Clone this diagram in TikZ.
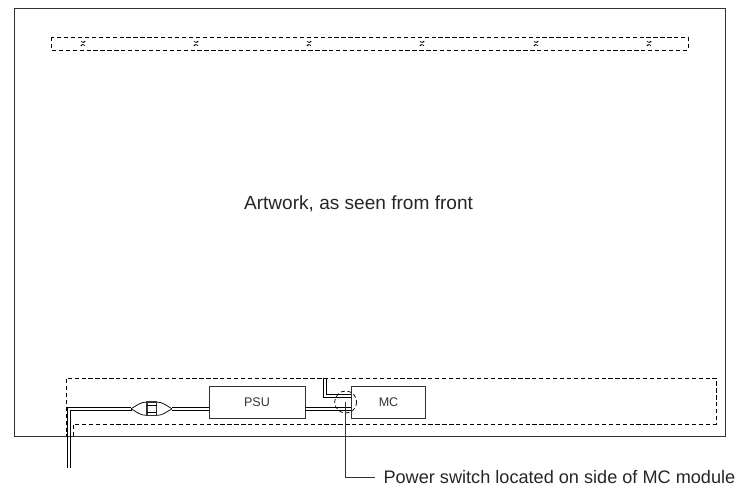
\documentclass[tikz,border=0pt]{standalone}
\usepackage{fontspec}
\setmainfont{Liberation Sans}
\usepackage{tikz}
\usetikzlibrary{calc}

\definecolor{inkline}{gray}{0.2}
\tikzset{
  module/.style={draw=inkline,line width=0.6pt,minimum width=72pt,minimum height=24pt,inner sep=0pt,text=inkline,font=\fontsize{9.4}{11}\selectfont},
  wire/.style={draw=black,line width=0.55pt},
  zone/.style={draw=black,line width=0.55pt,dash pattern=on 3.2pt off 2pt},
  caption/.style={inner sep=0pt,text=black!85,font=\fontsize{14.3}{17}\selectfont}
}

\begin{document}
\begin{tikzpicture}[x=0.75pt,y=-0.75pt]
  \useasboundingbox (0,0) rectangle (739,490);

  % outer frame
  \draw[draw=inkline,line width=0.65pt] (14,8) rectangle (725,436.5);

  \node[caption,anchor=center] (artwork) at (358.5,204) {Artwork, as seen from front};

  % strip along the top with its fixings
  \draw[zone] (51,37) rectangle (688,50);
  \foreach \x in {83,196,309,422,536,649} {
    \draw[line width=0.55pt] (\x-2,41.5) arc (135:45:3);
    \draw[line width=0.55pt] (\x+2,45.5) arc (-45:-135:3);
    \draw[line width=0.55pt] (\x-2.2,46) -- (\x-0.6,44.6);
    \draw[line width=0.55pt] (\x+0.6,42.4) -- (\x+2.2,41);
  }

  % strip along the bottom
  \draw[zone] (73,436) -- (73,424) -- (716,424) -- (716,378) -- (66,378) -- (66,436);

  \node[module] (psu) at (257,402) {PSU\hspace{3.75pt}};
  \node[module,minimum width=55pt] (mc) at (388.5,402) {MC\hspace{8.2pt}};

  % plug on the mains lead
  \coordinate (plugl) at (131,408.8);
  \coordinate (plugr) at (172,408.8);
  \coordinate (plugtl) at (147,402);
  \coordinate (plugbl) at (147,415.4);
  \coordinate (plugtr) at (156.5,402);
  \coordinate (plugbr) at (156.5,415.4);

  \draw[wire] (67.5,468) -- (67.5,407.5) -- (plugl |- 0,407.5);
  \draw[wire] (70.8,468) -- (70.8,410.6) -- (plugl |- 0,410.6);
  \draw[wire] (plugl |- 0,407.5) -- (plugl |- 0,410.6);
  \draw[wire] (plugl) .. controls (137,405.5) and (140,402) .. (plugtl);
  \draw[wire] (plugl) .. controls (137,412) and (140,415.4) .. (plugbl);
  \draw[wire] (plugr) .. controls (166,405.5) and (163,402) .. (plugtr);
  \draw[wire] (plugr) .. controls (166,412) and (163,415.4) .. (plugbr);
  \draw[wire,line width=1.3pt,draw=inkline] (plugtl) rectangle (plugbr);
  \draw[wire] (plugtl |- 0,405.5) -- (plugtr |- 0,405.5);
  \draw[wire] (plugtl |- 0,412) -- (plugtr |- 0,412);

  % leads between the modules
  \draw[wire] (plugr |- 0,407.5) -- (psu.west |- 0,407.5);
  \draw[wire] (plugr |- 0,410) -- (psu.west |- 0,410);
  \draw[wire] (psu.east |- 0,407.4) -- (mc.west |- 0,407.4);
  \draw[wire] (psu.east |- 0,410) -- (mc.west |- 0,410);
  \draw[wire] (323.4,378) -- (323.4,397.4) -- (mc.west |- 0,397.4);
  \draw[wire] (326,378) -- (326,394.8) -- (mc.west |- 0,394.8);

  % power switch
  \coordinate (switch) at (345.7,402);
  \draw[line width=0.55pt,dash pattern=on 3pt off 2pt] (switch) circle (11);

  \node[caption,anchor=west,font=\fontsize{13.6}{16}\selectfont] (note) at (383.3,477) {Power switch located on side of MC module};
  \coordinate (bend) at (345.7,477);
  \draw[draw=inkline,line width=0.55pt] (note.west) ++(-8.5,0) -- (bend) -- (switch);
\end{tikzpicture}
\end{document}
